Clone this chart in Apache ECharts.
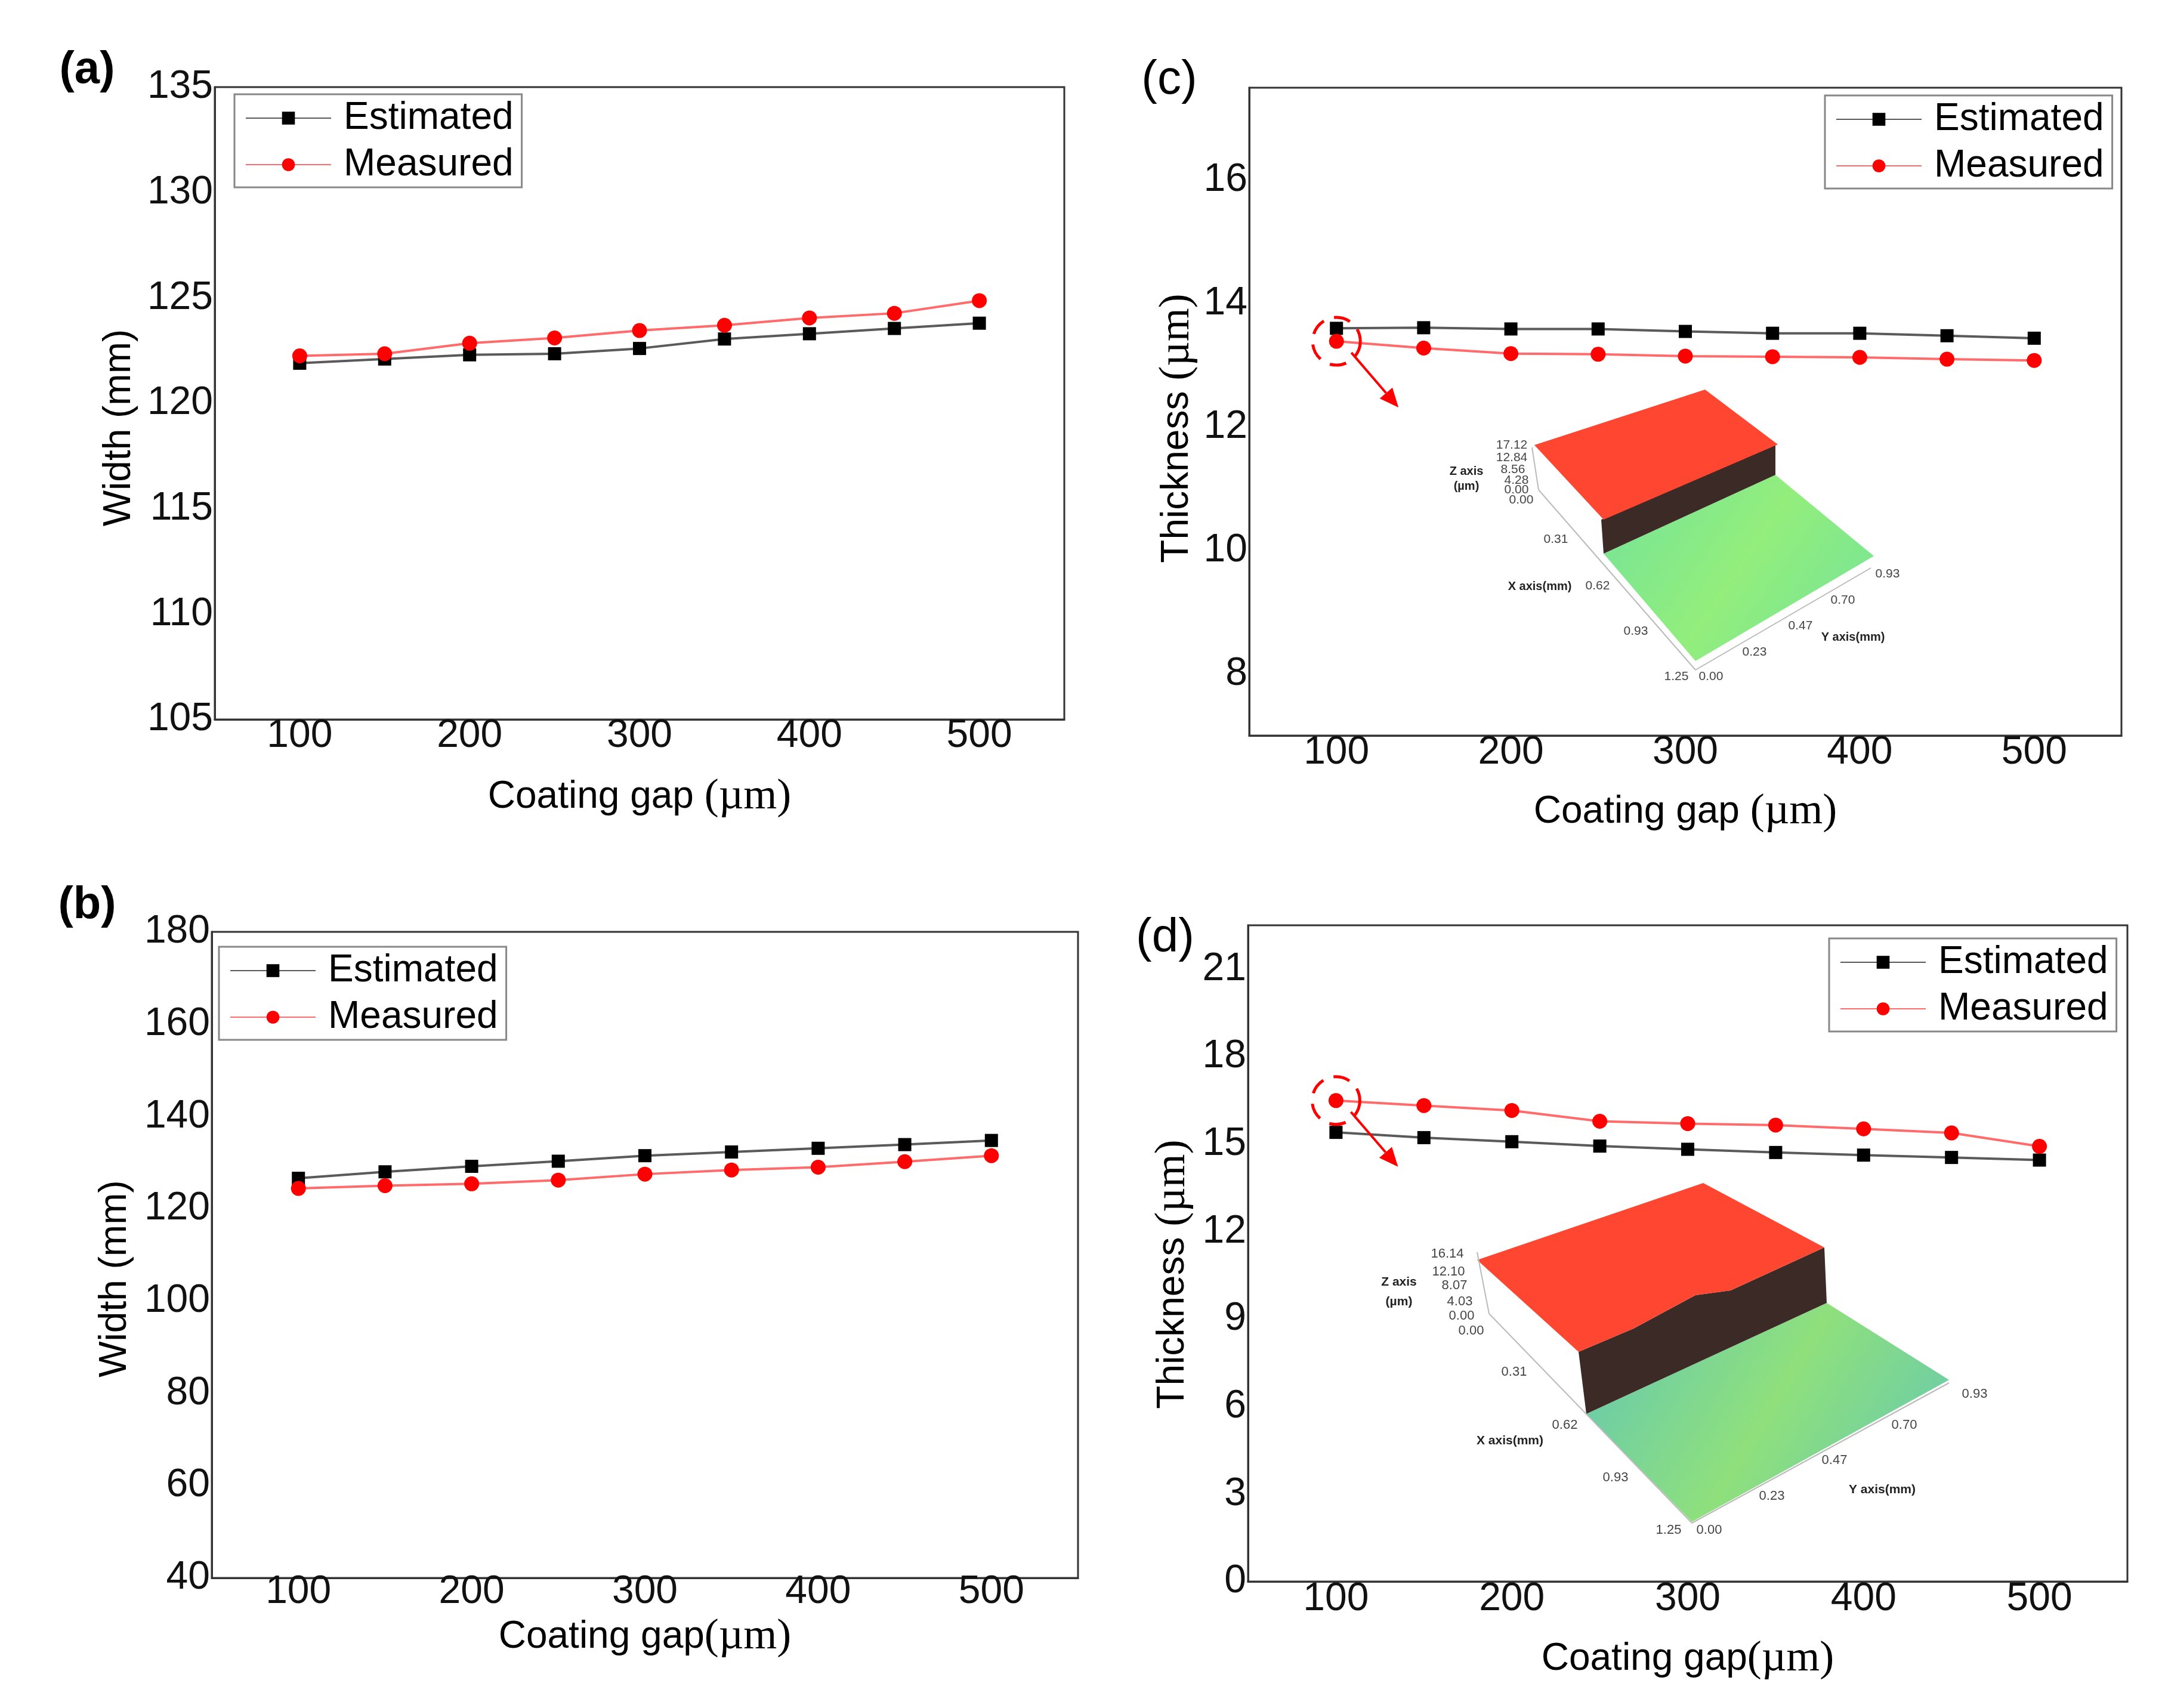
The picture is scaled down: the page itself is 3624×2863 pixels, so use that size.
<!DOCTYPE html>
<html>
<head>
<meta charset="utf-8">
<script src="https://cdn.jsdelivr.net/npm/echarts@6/dist/echarts.min.js"></script>
<style>
html,body{margin:0;padding:0;background:#fff}
#main{width:3624px;height:2863px}
</style>
</head>
<body>
<div id="main"></div>
<script>
// coating gap (µm)
const gaps = [100, 150, 200, 250, 300, 350, 400, 450, 500];

// (a) width, mm
const widthEstA = [121.9, 122.1, 122.3, 122.35, 122.6, 123.05, 123.3, 123.55, 123.8];
const widthMeasA = [122.25, 122.35, 122.85, 123.1, 123.45, 123.7, 124.05, 124.27, 124.87];
// (b) width, mm
const widthEstB = [126.6, 128.0, 129.2, 130.3, 131.5, 132.3, 133.1, 133.9, 134.8];
const widthMeasB = [124.4, 125.0, 125.4, 126.2, 127.5, 128.4, 129.0, 130.2, 131.5];
// (c) thickness, µm
const thickEstC = [13.6, 13.61, 13.59, 13.59, 13.55, 13.52, 13.52, 13.48, 13.44];
const thickMeasC = [13.39, 13.28, 13.19, 13.18, 13.15, 13.14, 13.13, 13.1, 13.08];
// (d) thickness, µm
const thickEstD = [15.4, 15.22, 15.08, 14.93, 14.82, 14.71, 14.62, 14.54, 14.45];
const thickMeasD = [16.49, 16.32, 16.15, 15.78, 15.7, 15.65, 15.52, 15.38, 14.92];

// tick labels
const xTicks = [100, 200, 300, 400, 500];
const yTicksA = [105, 110, 115, 120, 125, 130, 135];
const yTicksB = [40, 60, 80, 100, 120, 140, 160, 180];
const yTicksC = [8, 10, 12, 14, 16];
const yTicksD = [0, 3, 6, 9, 12, 15, 18, 21];

const SANS = "'Liberation Sans', Arial, sans-serif";
const SERIF = "'Liberation Serif', 'Times New Roman', serif";

const chart = echarts.init(document.getElementById('main'));

const grids = [
  { left: 360, top: 146, width: 1424, height: 1060 },
  { left: 355, top: 1562, width: 1452, height: 1083 },
  { left: 2094, top: 147, width: 1462, height: 1086 },
  { left: 2092, top: 1551, width: 1474, height: 1100 }
];

function onlyTicks(list) {
  return v => (list.indexOf(Math.round(v * 1000) / 1000) >= 0 ? String(v) : '');
}

const richName = {
  a: { fontFamily: SANS, fontSize: 64, color: '#000' },
  b: { fontFamily: SERIF, fontSize: 72, color: '#000' }
};

function xAxis(i, name, gap, margin) {
  return {
    type: 'value', gridIndex: i, min: 50, max: 550, interval: 50,
    name: name, nameLocation: 'middle', nameGap: gap,
    nameTextStyle: { rich: richName },
    axisLine: { show: true, lineStyle: { color: '#333', width: 3 } },
    axisTick: { show: false },
    splitLine: { show: false },
    axisLabel: {
      formatter: onlyTicks(xTicks), fontSize: 66, fontFamily: SANS, color: '#111',
      margin: margin, showMinLabel: true, showMaxLabel: true
    }
  };
}

// shift moves the rotated name down the axis (px)
function yAxis(i, min, max, interval, ticks, name, gap, shift) {
  return {
    type: 'value', gridIndex: i, min: min, max: max, interval: interval,
    name: name, nameLocation: 'middle', nameGap: gap,
    nameTextStyle: { rich: richName, padding: [0, shift * 2, 0, 0] },
    axisLine: { show: true, lineStyle: { color: '#333', width: 3 } },
    axisTick: { show: false },
    splitLine: { show: false },
    axisLabel: {
      formatter: onlyTicks(ticks), fontSize: 66, fontFamily: SANS, color: '#111',
      margin: 3, showMinLabel: true, showMaxLabel: true
    }
  };
}

function pair(i, est, meas) {
  return [
    {
      name: 'Estimated', type: 'line', xAxisIndex: i, yAxisIndex: i,
      data: gaps.map((g, k) => [g, est[k]]),
      symbol: 'rect', symbolSize: 22,
      itemStyle: { color: '#000' },
      lineStyle: { color: '#5a5a5a', width: 4 },
      z: 3
    },
    {
      name: 'Measured', type: 'line', xAxisIndex: i, yAxisIndex: i,
      data: gaps.map((g, k) => [g, meas[k]]),
      symbol: 'circle', symbolSize: 25,
      itemStyle: { color: '#ff0000' },
      lineStyle: { color: '#ff6a6a', width: 4 },
      z: 4
    }
  ];
}

function legend(left, top) {
  return {
    left: left, top: top, orient: 'vertical',
    data: ['Estimated', 'Measured'],
    itemWidth: 143, itemHeight: 27, itemGap: 14,
    padding: [8, 14, 6, 18],
    borderColor: '#888', borderWidth: 3,
    selectedMode: false,
    textStyle: { fontSize: 64, fontFamily: SANS, color: '#000', lineHeight: 64, padding: [0, 0, 0, 16] }
  };
}

const option = {
  animation: false,
  backgroundColor: '#fff',
  grid: grids.map(g => Object.assign({ show: true, borderColor: '#333', borderWidth: 3, backgroundColor: 'transparent' }, g)),
  xAxis: [
    xAxis(0, '{a|Coating gap }{b|(µm)}', 94, -5),
    xAxis(1, '{a|Coating gap}{b|(µm)}', 63, -9),
    xAxis(2, '{a|Coating gap }{b|(µm)}', 92, -4),
    xAxis(3, '{a|Coating gap}{b|(µm)}', 94, -3)
  ],
  yAxis: [
    yAxis(0, 105, 135, 5, yTicksA, '{a|Width (mm)}', 128, 41),
    yAxis(1, 40, 180, 20, yTicksB, '{a|Width (mm)}', 130, 40),
    yAxis(2, 7, 17.5, 1, yTicksC, '{a|Thickness }{b|(µm)}', 85, 28),
    yAxis(3, 0, 22.5, 3, yTicksD, '{a|Thickness }{b|(µm)}', 90, 35)
  ],
  legend: [legend(393, 158), legend(367, 1587), legend(3059, 160), legend(3066, 1573)],
  series: [].concat(
    pair(0, widthEstA, widthMeasA),
    pair(1, widthEstB, widthMeasB),
    pair(2, thickEstC, thickMeasC),
    pair(3, thickEstD, thickMeasD)
  )
};
chart.setOption(option);

// ---------- decorations: panel letters, highlight circles, 3D surface insets ----------
const gfx = [];

function txt(x, y, s, size, opts) {
  opts = opts || {};
  gfx.push({
    type: 'text', x: x, y: y, z: 50,
    style: {
      text: s, fontSize: size, fontFamily: opts.family || SANS,
      fontWeight: opts.bold ? 'bold' : 'normal', fill: opts.color || '#000',
      textAlign: 'center', textVerticalAlign: 'middle'
    }
  });
}

txt(146, 118, '(a)', 76, { bold: true });
txt(146, 1518, '(b)', 76, { bold: true });
txt(1960, 135, '(c)', 80);
txt(1953, 1573, '(d)', 80);

// dashed circle + arrow on the first measured point
function highlight(gridIndex, value) {
  const p = chart.convertToPixel({ gridIndex: gridIndex }, [gaps[0], value]);
  gfx.push({
    type: 'circle', z: 40,
    shape: { cx: p[0], cy: p[1], r: 40 },
    style: { fill: 'none', stroke: '#ff0000', lineWidth: 5, lineDash: [28, 18] }
  });
  const s = [p[0] + 25, p[1] + 19];
  const t = [p[0] + 104, p[1] + 111];
  const dx = t[0] - s[0], dy = t[1] - s[1];
  const len = Math.sqrt(dx * dx + dy * dy);
  const ux = dx / len, uy = dy / len;
  const b = [t[0] - ux * 32, t[1] - uy * 32];
  gfx.push({
    type: 'line', z: 40,
    shape: { x1: s[0], y1: s[1], x2: b[0], y2: b[1] },
    style: { stroke: '#ff0000', lineWidth: 4 }
  });
  gfx.push({
    type: 'polygon', z: 40,
    shape: { points: [t, [b[0] - uy * 14, b[1] + ux * 14], [b[0] + uy * 14, b[1] - ux * 14]] },
    style: { fill: '#ff0000' }
  });
}
highlight(2, thickMeasC[0]);
highlight(3, thickMeasD[0]);

function poly(points, fill, z) {
  gfx.push({ type: 'polygon', z: z || 20, shape: { points: points }, style: { fill: fill } });
}
function seg(x1, y1, x2, y2) {
  gfx.push({ type: 'line', z: 21, shape: { x1: x1, y1: y1, x2: x2, y2: y2 }, style: { stroke: '#bbb', lineWidth: 2 } });
}
function floorFill(c1, c2) {
  return new echarts.graphic.LinearGradient(0, 0, 1, 1, [
    { offset: 0, color: c1 }, { offset: 0.5, color: c2 }, { offset: 1, color: c1 }
  ]);
}

// inset (c)
poly([[2688, 928], [2976, 796], [3141, 932], [2842, 1108]], floorFill('#72e39a', '#93ee7c'));
poly([[2684, 871], [2976, 744], [2976, 796], [2688, 928]], '#3c2a27');
poly([[2572, 746], [2858, 653], [2980, 745], [2688, 871]], '#ff4630');
seg(2568, 750, 2579, 821); seg(2579, 821, 2842, 1123); seg(2842, 1123, 3136, 952);
txt(2534, 746, '17.12', 21, { color: '#444' });
txt(2534, 767, '12.84', 21, { color: '#444' });
txt(2536, 787, '8.56', 21, { color: '#444' });
txt(2542, 805, '4.28', 21, { color: '#444' });
txt(2542, 821, '0.00', 21, { color: '#444' });
txt(2550, 838, '0.00', 21, { color: '#444' });
txt(2458, 790, 'Z axis', 20, { bold: true, color: '#222' });
txt(2458, 815, '(µm)', 20, { bold: true, color: '#222' });
txt(2608, 904, '0.31', 21, { color: '#444' });
txt(2581, 983, 'X axis(mm)', 20, { bold: true, color: '#222' });
txt(2678, 982, '0.62', 21, { color: '#444' });
txt(2742, 1058, '0.93', 21, { color: '#444' });
txt(2810, 1134, '1.25', 21, { color: '#444' });
txt(2868, 1134, '0.00', 21, { color: '#444' });
txt(2941, 1093, '0.23', 21, { color: '#444' });
txt(3018, 1049, '0.47', 21, { color: '#444' });
txt(3106, 1068, 'Y axis(mm)', 20, { bold: true, color: '#222' });
txt(3089, 1006, '0.70', 21, { color: '#444' });
txt(3164, 962, '0.93', 21, { color: '#444' });

// inset (d)
poly([[2659, 2370], [3062, 2184], [3267, 2313], [2836, 2551]], floorFill('#62c7b4', '#8fe07c'));
poly([[2646, 2266], [2738, 2227], [2842, 2171], [2901, 2163], [3058, 2091], [3062, 2184], [2659, 2370]], '#3c2a27');
poly([[2476, 2112], [2855, 1983], [3058, 2091], [2901, 2163], [2842, 2171], [2738, 2227], [2646, 2266]], '#ff4630');
seg(2476, 2099, 2496, 2202); seg(2496, 2202, 2836, 2553); seg(2836, 2553, 3267, 2318);
txt(2426, 2102, '16.14', 22, { color: '#444' });
txt(2428, 2132, '12.10', 22, { color: '#444' });
txt(2438, 2155, '8.07', 22, { color: '#444' });
txt(2447, 2182, '4.03', 22, { color: '#444' });
txt(2450, 2206, '0.00', 22, { color: '#444' });
txt(2466, 2231, '0.00', 22, { color: '#444' });
txt(2345, 2149, 'Z axis', 21, { bold: true, color: '#222' });
txt(2345, 2182, '(µm)', 21, { bold: true, color: '#222' });
txt(2538, 2300, '0.31', 22, { color: '#444' });
txt(2623, 2389, '0.62', 22, { color: '#444' });
txt(2531, 2415, 'X axis(mm)', 21, { bold: true, color: '#222' });
txt(2708, 2477, '0.93', 22, { color: '#444' });
txt(2797, 2565, '1.25', 22, { color: '#444' });
txt(2865, 2565, '0.00', 22, { color: '#444' });
txt(2970, 2508, '0.23', 22, { color: '#444' });
txt(3075, 2448, '0.47', 22, { color: '#444' });
txt(3155, 2497, 'Y axis(mm)', 21, { bold: true, color: '#222' });
txt(3192, 2389, '0.70', 22, { color: '#444' });
txt(3310, 2337, '0.93', 22, { color: '#444' });

chart.setOption({ graphic: gfx });
</script>
</body>
</html>
